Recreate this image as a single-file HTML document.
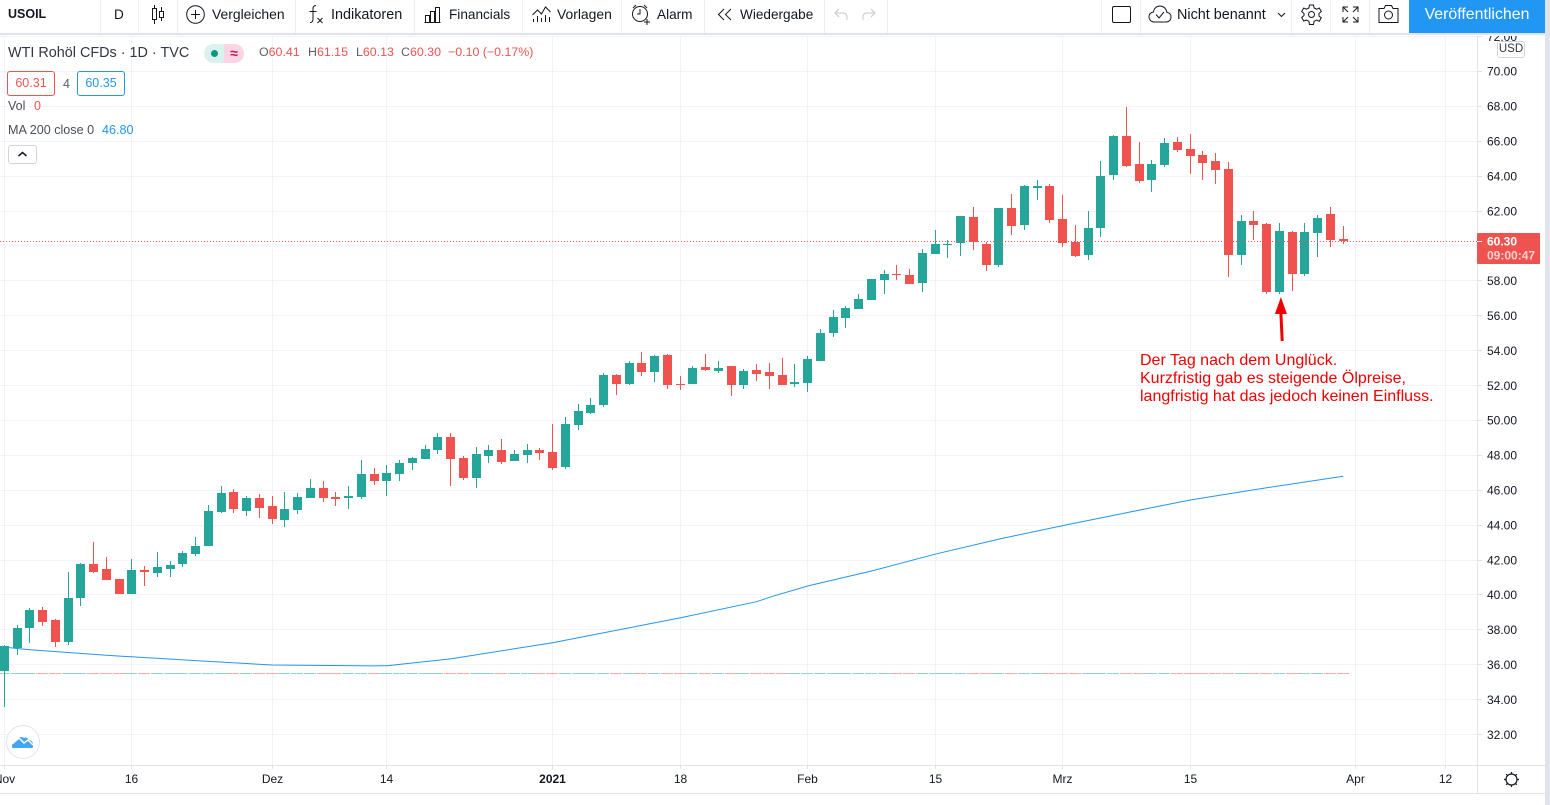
<!DOCTYPE html>
<html lang="de">
<head>
<meta charset="utf-8">
<title>USOIL Chart</title>
<style>
html,body{margin:0;padding:0;background:#fff;width:1550px;height:805px;overflow:hidden;font-family:"Liberation Sans",sans-serif;color:#131722}
#toolbar{position:absolute;left:0;top:0;width:1545px;height:33px;background:#fff}
#toolbar .t{position:absolute;top:0;height:29px;line-height:29px;font-size:13.6px;white-space:nowrap;color:#131722}
#toolbar .d{position:absolute;top:0;width:1px;height:33px;background:#eceef3}
#toolbar svg{position:absolute;overflow:visible}
#topline{position:absolute;left:0;top:33px;width:1550px;height:2px;background:#e0e3eb}
#rightstrip{position:absolute;left:1545px;top:0;width:5px;height:805px;background:#e0e3eb}
#publish{position:absolute;left:1409px;top:0;width:136px;height:33px;background:#2196f3;color:#fff;font-size:15.9px;line-height:30px;text-align:center}
#chart{position:absolute;left:0;top:0}
.leg{position:absolute;white-space:nowrap;font-size:12.5px;line-height:16px;color:#4a4e5a}
.ohlc{position:absolute;top:44px;white-space:nowrap;font-size:12.4px;line-height:16px;color:#ef5350}
.ohlc b{font-weight:normal;color:#5d606b}
.box{position:absolute;box-sizing:border-box;border:1px solid;border-radius:3px;background:#fff;font-size:12.5px;text-align:center;line-height:23px}
#note{position:absolute;left:1140px;top:352px;color:#f00000;font-size:16px;line-height:18px;white-space:nowrap}
</style>
</head>
<body>
<svg id="chart" width="1550" height="805" xmlns="http://www.w3.org/2000/svg"></svg>

<div id="topline"></div>
<div id="rightstrip"></div>

<div id="toolbar">
  <span class="t" style="left:8px;font-weight:bold;font-size:12.5px;">USOIL</span>
  <i class="d" style="left:100px"></i>
  <span class="t" style="left:114px">D</span>
  <i class="d" style="left:138px"></i>
  <svg style="left:150px;top:5px" width="15" height="20" fill="none" stroke="#131722"><path d="M4.5 0v3M4.5 15v4M11.5 2v4M11.5 13v3"/><rect x="2.5" y="3.5" width="4" height="11"/><rect x="9.5" y="6.5" width="4" height="6"/></svg>
  <i class="d" style="left:177px"></i>
  <svg style="left:186px;top:5px" width="19" height="19" fill="none" stroke="#131722"><circle cx="9.5" cy="9.5" r="8.8"/><path d="M9.5 5v9M5 9.5h9"/></svg>
  <span class="t" style="left:212px;font-size:13.9px">Vergleichen</span>
  <i class="d" style="left:295px"></i>
  <svg style="left:308px;top:4px" width="16" height="21" fill="none" stroke="#131722"><path d="M8 1.5C5.5 1.5 5 3 5 5v10c0 2-.5 3.5-3 3.5M1.5 7.5h7M9.5 14l5 5M14.5 14l-5 5"/></svg>
  <span class="t" style="left:331px;top:1px;font-size:14.4px">Indikatoren</span>
  <i class="d" style="left:414px"></i>
  <svg style="left:424px;top:7px" width="17" height="16" fill="none" stroke="#131722"><path d="M.5 15.5h16M1.5 15.5v-7h4v7M6.5 15.5v-11h4v11M11.5 15.5V.5h4v15"/></svg>
  <span class="t" style="left:449px">Financials</span>
  <i class="d" style="left:522px"></i>
  <svg style="left:532px;top:6px" width="19" height="17" fill="none" stroke="#131722"><path d="M.5 9l5-5 4 4 4-7 5 5M1.5 16v-3M5.5 16v-6M9.5 16v-4M13.5 16v-7M17.5 16v-5"/></svg>
  <span class="t" style="left:557px;font-size:13.9px">Vorlagen</span>
  <i class="d" style="left:621px"></i>
  <svg style="left:631px;top:4px" width="21" height="21" fill="none" stroke="#131722"><circle cx="9" cy="10" r="7.5"/><path d="M9 5v5h-3M2 4l3-3M13 1l3 3M16 15v6M13 18h6"/></svg>
  <span class="t" style="left:657px">Alarm</span>
  <i class="d" style="left:704px"></i>
  <svg style="left:717px;top:8px" width="16" height="13" fill="none" stroke="#131722"><path d="M7 1L1.5 6.5 7 12M14 1L8.5 6.5 14 12"/></svg>
  <span class="t" style="left:740px">Wiedergabe</span>
  <i class="d" style="left:824px"></i>
  <svg style="left:834px;top:8px" width="14" height="13" fill="none" stroke="#c4c7d0"><path d="M5 1L1 5l4 4M1 5h8c3 0 4 2 4 4v3"/></svg>
  <svg style="left:862px;top:8px" width="14" height="13" fill="none" stroke="#c4c7d0"><path d="M9 1l4 4-4 4M13 5H5C2 5 1 7 1 9v3"/></svg>
  <i class="d" style="left:887px"></i>
  <i class="d" style="left:1101px"></i>
  <svg style="left:1112px;top:6px" width="19" height="18" fill="none" stroke="#131722"><rect x=".5" y=".5" width="18" height="16" rx="1.5"/></svg>
  <i class="d" style="left:1140px"></i>
  <svg style="left:1148px;top:5px" width="24" height="18" fill="none" stroke="#131722"><path d="M6 17h12c3 0 5-2 5-5s-2-4.500-4-4.500C18 3 15 1 12 1 9 1 6 3 5.500 7 2.500 7.500 1 9.500 1 12s2 5 5 5z"/><path d="M8 9.500l3 3.500 5-6"/></svg>
  <span class="t" style="left:1177px;top:1px;font-size:14.4px">Nicht benannt</span>
  <svg style="left:1277px;top:12px" width="9" height="6" fill="none" stroke="#131722"><path d="M1 1l3.500 3.500L8 1"/></svg>
  <i class="d" style="left:1291px"></i>
  <svg style="left:1301px;top:4px" width="21" height="21" fill="none" stroke="#131722"><circle cx="10.500" cy="10.500" r="3"/><path d="M8.500 1h4l.6 3 2.500 1.200L18.300 4l2 3.500-2.300 2v2.500l2.300 1.800-2 3.500-2.700-1.200-2.500 1.200-.6 3.200h-4l-.6-3.200-2.500-1.200L2.700 17l-2-3.500L3 11.500V9.500L.7 7.500l2-3.500 2.700 1.200L7.900 4z"/></svg>
  <i class="d" style="left:1330px"></i>
  <svg style="left:1342px;top:6px" width="17" height="17" fill="none" stroke="#131722"><path d="M1 6V1h5M11 1h5v5M16 11v5h-5M6 16H1v-5M1 1l5 5M16 1l-5 5M16 16l-5-5M1 16l5-5"/></svg>
  <i class="d" style="left:1369px"></i>
  <svg style="left:1378px;top:5px" width="21" height="18" fill="none" stroke="#131722"><path d="M1 3.500h5l1.500-3h6l1.500 3h5v14H1z"/><circle cx="10.500" cy="10" r="4"/></svg>
</div>
<div id="publish">Veröffentlichen</div>

<div class="leg" style="left:8px;top:43px;font-size:14.4px;line-height:20px;color:#333742">WTI Rohöl CFDs · 1D · TVC</div>
<div style="position:absolute;left:204px;top:44px;width:40px;height:19px;border-radius:10px;overflow:hidden;background:#daf1ee">
  <div style="position:absolute;left:20px;top:0;width:20px;height:19px;background:#fbd5e1;color:#c2185b;font-size:14px;font-weight:bold;line-height:18px;text-align:center">≈</div>
  <div style="position:absolute;left:7px;top:6px;width:7px;height:7px;border-radius:50%;background:#089981"></div>
</div>
<span class="ohlc" style="left:259px"><b>O</b>60.41</span>
<span class="ohlc" style="left:308px"><b>H</b>61.15</span>
<span class="ohlc" style="left:356px"><b>L</b>60.13</span>
<span class="ohlc" style="left:401px"><b>C</b>60.30</span>
<span class="ohlc" style="left:448px">−0.10 (−0.17%)</span>
<div class="box" style="left:7px;top:71px;width:48px;height:25px;border-color:#ef5350;color:#ef5350">60.31</div>
<div class="leg" style="left:63px;top:76px;color:#5d606b">4</div>
<div class="box" style="left:77px;top:71px;width:48px;height:25px;border-color:#2196f3;color:#2196f3">60.35</div>
<div class="leg" style="left:8px;top:98px">Vol</div>
<div class="leg" style="left:34px;top:98px;color:#ef5350">0</div>
<div class="leg" style="left:8px;top:122px;font-size:12.6px">MA 200 close 0</div>
<div class="leg" style="left:102px;top:122px;font-size:12.6px;color:#2196f3">46.80</div>
<div class="box" style="left:8px;top:145px;width:29px;height:19px;border-color:#d1d4dc;background:#fff">
  <svg width="27" height="17" style="display:block" fill="none" stroke="#131722" stroke-width="1.500"><path d="M9.500 10l4-3.500 4 3.500"/></svg>
</div>
<div id="note">Der Tag nach dem Unglück.<br>Kurzfristig gab es steigende Ölpreise,<br>langfristig hat das jedoch keinen Einfluss.</div>
<div class="box" style="left:1497px;top:41px;width:28px;height:17px;border-color:#d1d4dc;font-size:11.5px;line-height:15px;color:#333742">USD</div>
<div style="position:absolute;left:6px;top:725px;width:34px;height:34px;box-sizing:border-box;border:1px solid #e0e3eb;border-radius:50%;background:#fff">
  <svg width="32" height="32" style="display:block"><path d="M5 21v-3l2-3 3-1c1-3 5-4 7-2 2-1 4 0 5 2 2 0 4 2 4 4v3c0 .5-.5 1-1 1H6c-.5 0-1-.5-1-1z" fill="#42a5f5"/><path d="M5 18l7-6 5 5 4-3 5 5" fill="none" stroke="#fff" stroke-width="1.500"/></svg>
</div>

<script>
// Candle values per trading day (USD)
const opens = [
35.66,36.96,38.10,39.13,38.56,37.30,39.82,41.77,41.48,40.91,
40.05,41.43,41.25,41.48,41.77,42.34,42.80,44.75,45.90,44.81,
45.55,45.09,44.29,44.87,45.55,46.13,45.61,45.55,45.61,46.93,
46.53,46.93,47.56,47.79,48.30,49.05,47.84,46.70,47.96,48.30,
47.67,48.02,48.30,48.19,47.33,49.74,50.42,50.88,52.60,52.09,
53.29,52.77,53.75,52.09,52.09,53.06,52.83,53.12,52.03,52.89,
52.77,52.60,52.09,52.14,53.40,55.01,55.87,56.38,56.90,58.05,
58.39,58.33,57.87,59.53,60.05,60.17,61.66,60.11,58.91,62.17,
61.20,63.32,63.43,61.54,60.22,59.48,61.03,64.06,66.30,64.69,
63.78,64.63,65.95,65.55,65.21,64.87,64.41,59.48,61.43,61.25,
57.36,60.80,58.39,60.74,61.83,60.41];
const highs = [
37.11,38.27,39.25,39.31,38.62,41.31,41.83,43.03,42.17,40.91,
42.06,41.65,42.46,41.94,42.52,43.32,45.15,46.24,46.07,45.67,
45.78,45.67,45.90,45.84,46.64,46.53,45.90,46.24,47.73,47.27,
47.44,47.73,47.90,48.59,49.28,49.28,47.96,48.48,48.59,48.93,
48.30,48.65,48.42,49.79,50.19,50.94,51.28,52.72,52.66,53.40,
53.92,53.75,53.80,52.54,53.12,53.80,53.40,53.12,52.95,53.23,
53.29,53.57,53.23,53.69,55.24,56.33,56.56,57.24,58.11,58.62,
58.91,58.68,59.82,60.91,60.34,61.71,62.23,60.22,62.17,62.97,
63.49,63.78,63.55,62.92,61.20,62.00,64.87,66.35,67.96,65.95,
64.92,66.18,66.24,66.41,65.44,65.32,64.81,61.77,62.00,61.31,
61.31,60.85,61.31,61.77,62.23,61.15];
const lows = [
33.59,36.56,37.24,38.22,37.01,37.13,39.36,41.25,40.85,40.05,
40.05,40.51,41.02,41.02,41.60,42.23,42.80,44.69,44.69,44.52,
44.41,44.06,43.89,44.64,45.55,45.32,45.09,44.92,45.50,46.30,
45.67,46.53,47.16,47.79,48.07,46.24,46.58,46.13,47.56,47.50,
47.67,47.56,47.73,47.16,47.21,49.45,50.37,50.77,51.46,52.03,
52.54,52.20,51.80,51.74,52.09,52.83,52.72,51.40,51.80,52.26,
51.80,52.03,51.91,51.63,53.40,54.78,55.30,56.38,56.90,57.24,
58.05,57.82,57.36,59.53,59.30,59.42,59.76,58.56,58.79,60.62,
60.91,62.63,61.31,59.94,59.36,59.19,60.51,63.78,64.52,63.60,
63.09,64.52,65.38,64.12,63.78,63.55,58.22,58.91,60.34,57.24,
57.24,57.41,58.27,59.36,59.94,60.13];
const closes = [
37.07,38.10,39.13,38.45,37.30,39.82,41.77,41.31,40.85,40.05,
41.43,41.31,41.60,41.71,42.40,42.80,44.81,45.84,44.92,45.55,
44.98,44.35,44.92,45.61,46.13,45.55,45.50,45.67,46.93,46.53,
46.98,47.56,47.84,48.36,49.05,47.79,46.70,48.07,48.30,47.62,
48.07,48.30,48.13,47.27,49.79,50.54,50.88,52.60,52.09,53.29,
52.77,53.69,52.03,52.03,53.00,52.89,53.00,52.03,52.83,52.66,
52.54,52.03,52.20,53.52,55.01,55.93,56.44,56.96,58.11,58.39,
58.33,57.82,59.59,60.11,60.11,61.71,60.22,58.91,62.17,61.14,
63.43,63.43,61.48,60.17,59.42,61.03,64.00,66.30,64.58,63.72,
64.69,65.90,65.50,65.15,64.75,64.35,59.48,61.43,61.20,57.36,
60.85,58.39,60.80,61.60,60.34,60.30];

// Moving average readings (bar number, value)
const maBars   = [0,1,2,8,16,21,29,30,35,43,53,59,60,63,68,73,78,83,88,93,99,105];
const maValues = [37.01,36.93,36.86,36.54,36.19,35.98,35.93,35.94,36.33,37.26,38.68,39.61,39.86,40.51,41.37,42.33,43.20,43.97,44.71,45.44,46.14,46.80];

// Axis labels
const priceTicks = [72,70,68,66,64,62,60,58,56,54,52,50,48,46,44,42,40,38,36,34,32];
const priceHiddenLabels = [60];
const timeTickBars = [0,10,21,30,43,53,63,73,83,93,106,113];
const timeTickLabels = ["Nov","16","Dez","14","2021","18","Feb","15","Mrz","15","Apr","12"];
const lastPriceLabel = "60.30";
const countdownLabel = "09:00:47";

const NS = "http://www.w3.org/2000/svg";
const svg = document.getElementById("chart");
const GREEN = "#26a69a", RED = "#ef5350", GRID = "#f0f3fa", AXIS = "#e0e3eb";
const AXIS_X = 1477, TIME_TOP = 765, TIME_BOTTOM = 793, VOL_Y = 673.5;

const xOf = i => 4.4 + i * 12.75;
const yOf = p => 71.4 + (70 - p) * 17.45;

function mk(tag, attrs, parent) {
  const el = document.createElementNS(NS, tag);
  for (const k in attrs) el.setAttribute(k, attrs[k]);
  (parent || svg).appendChild(el);
  return el;
}

const gridGroup = mk("g", {"shape-rendering": "crispEdges"});


priceTicks.forEach(p => {
  const y = Math.floor(yOf(p)) + 0.5;
  const line = mk("line", {x1: 0, x2: AXIS_X, y1: y, y2: y, stroke: GRID}, gridGroup);
  
  
});
timeTickBars.forEach(i => {
  const x = Math.floor(xOf(i)) + 0.5;
  const line = mk("line", {x1: x, x2: x, y1: 36, y2: TIME_TOP, stroke: GRID}, gridGroup);
  
  
});

// Volume (all zero: flat dashes along the volume baseline)
const volGroup = mk("g", {"shape-rendering": "crispEdges", opacity: 0.5});


closes.forEach((c, i) => {
  const cx = Math.floor(xOf(i));
  const dash = mk("rect", {x: cx - 6, y: Math.floor(VOL_Y), width: 12, height: 1, fill: c >= opens[i] ? GREEN : RED}, volGroup);
  
  
});

// Moving average
const maLine = mk("polyline", {
  points: maBars.map((b, k) => xOf(b).toFixed(1) + "," + yOf(maValues[k]).toFixed(1)).join(" "),
  fill: "none", stroke: "#2196f3", "stroke-width": 1
});



// Candles
const candleGroup = mk("g", {"shape-rendering": "crispEdges"});


opens.forEach((o, i) => {
  const c = closes[i], color = c >= o ? GREEN : RED;
  const cx = Math.floor(xOf(i));
  const hi = Math.round(yOf(highs[i])), lo = Math.round(yOf(lows[i]));
  const top = Math.round(yOf(Math.max(o, c))), bot = Math.round(yOf(Math.min(o, c)));
  const wick = mk("rect", {x: cx, y: hi, width: 1, height: Math.max(lo - hi, 1), fill: color}, candleGroup);
  
  
  const body = mk("rect", {x: cx - 4, y: top, width: 9, height: Math.max(bot - top, 1), fill: color}, candleGroup);
  
  
});

// Last price line
const lastY = Math.round(yOf(closes[closes.length - 1])) + 0.5;
const lastLine = mk("line", {x1: 0, x2: AXIS_X, y1: lastY, y2: lastY, stroke: RED, "stroke-dasharray": "1 2", "stroke-width": 1});



// Annotation arrow: anchored to the candle it points at
const arrowBar = 100;
const arrowTipX = xOf(arrowBar) + 1.5;
const arrowTipY = Math.round(yOf(lows[arrowBar])) + 3;
const arrow = mk("g", {fill: "#f00000", stroke: "none"});


mk("polygon", {points: `${arrowTipX},${arrowTipY} ${arrowTipX - 6},${arrowTipY + 17} ${arrowTipX + 6},${arrowTipY + 17}`}, arrow);
mk("polygon", {points: `${arrowTipX - 1.5},${arrowTipY + 16} ${arrowTipX + 1.5},${arrowTipY + 16} ${arrowTipX + 2.8},${arrowTipY + 44} ${arrowTipX - 0.2},${arrowTipY + 44}`}, arrow);

// Axis frame
const frame = mk("g", {"shape-rendering": "crispEdges", stroke: AXIS});


mk("line", {x1: 0, x2: 1545, y1: TIME_TOP + 0.5, y2: TIME_TOP + 0.5}, frame);
mk("line", {x1: 0, x2: 1545, y1: TIME_BOTTOM + 0.5, y2: TIME_BOTTOM + 0.5}, frame);
mk("line", {x1: AXIS_X + 0.5, x2: AXIS_X + 0.5, y1: 36, y2: TIME_BOTTOM}, frame);

// Price axis
priceTicks.forEach(p => {
  const y = yOf(p);
  const tick = mk("line", {x1: AXIS_X, x2: AXIS_X + 5, y1: Math.floor(y) + 0.5, y2: Math.floor(y) + 0.5, stroke: AXIS, "shape-rendering": "crispEdges"});
  
  
  if (priceHiddenLabels.includes(p)) return;
  const label = mk("text", {x: 1487, y: y + 4.3, "font-size": 12, fill: "#131722", "font-family": "Liberation Sans, sans-serif"});
  label.textContent = p.toFixed(2);
  
  
});
const topCover = mk("rect", {x: 1478, y: 0, width: 70, height: 36, fill: "#fff"});



// Last price tag
const tagTop = Math.floor(lastY) - 8;
const tag = mk("rect", {x: AXIS_X, y: tagTop, width: 63, height: 31, rx: 1, fill: RED});


const tagTick = mk("rect", {x: AXIS_X, y: Math.floor(lastY), width: 5, height: 1, fill: "#fff"});


const tagPrice = mk("text", {x: 1487, y: tagTop + 12.5, "font-size": 12, "font-weight": "bold", fill: "#fff", "font-family": "Liberation Sans, sans-serif"});
tagPrice.textContent = lastPriceLabel;


const tagTime = mk("text", {x: 1487, y: tagTop + 26.5, "font-size": 12, "font-weight": "bold", fill: "#fdd0cf", "font-family": "Liberation Sans, sans-serif"});
tagTime.textContent = countdownLabel;



// Time axis
timeTickBars.forEach((i, k) => {
  const x = Math.floor(xOf(i)) + 0.5;
  const tick = mk("line", {x1: x, x2: x, y1: TIME_TOP, y2: TIME_TOP + 4, stroke: AXIS, "shape-rendering": "crispEdges"});
  
  
  const lab = timeTickLabels[k];
  const label = mk("text", {x: x, y: 783, "font-size": 12, "text-anchor": "middle", fill: "#131722", "font-family": "Liberation Sans, sans-serif", "font-weight": lab === "2021" ? "bold" : "normal"});
  label.textContent = lab;
  
  
});

// Axis settings gear
const gear = mk("g", {fill: "none", stroke: "#131722", "stroke-width": 1.2, transform: "translate(1511.5 779.5)"});


mk("circle", {r: 5.5}, gear);
mk("path", {d: "M0 -7.500v2M0 5.500v2M-7.500 0h2M5.500 0h2M-5.300 -5.300l1.400 1.400M3.900 3.900l1.400 1.400M5.300 -5.300l-1.400 1.400M-3.900 3.900l-1.400 1.400"}, gear);
</script>
</body>
</html>
